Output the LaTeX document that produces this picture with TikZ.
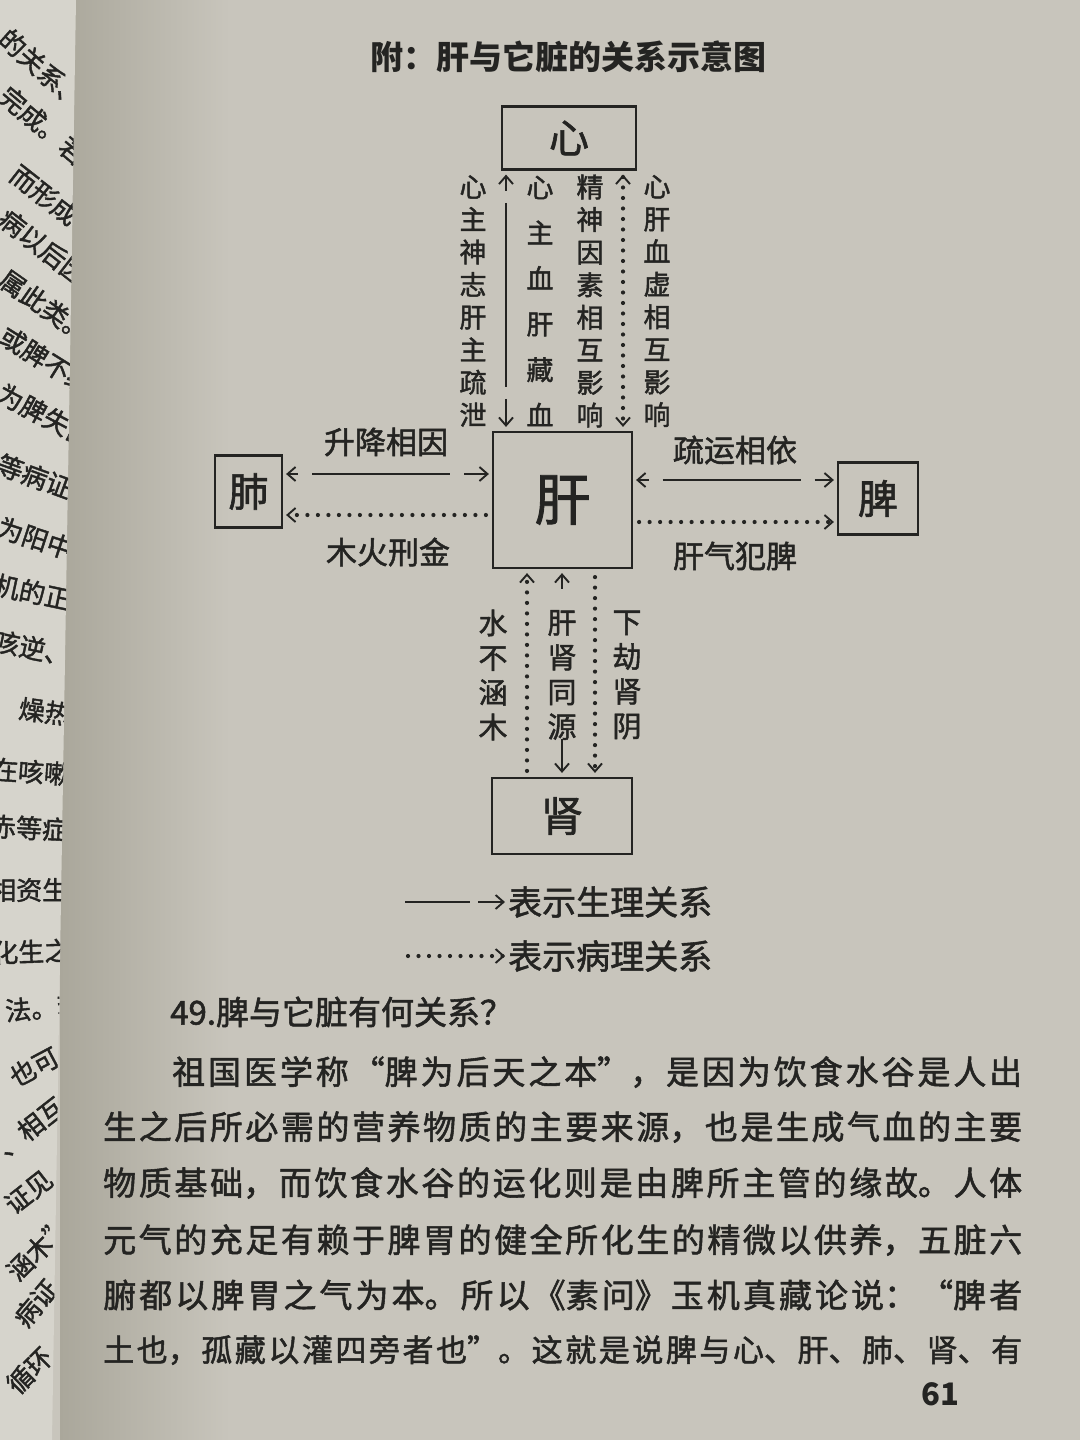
\documentclass[tikz,border=0pt]{standalone}
\usepackage{fontspec}
\setmainfont{Liberation Serif}
\newfontfamily\cjk{Noto Sans CJK SC}[FakeBold=1.6]
\newfontfamily\cjkt{Noto Sans CJK SC}
\usetikzlibrary{arrows.meta,calc}
\definecolor{page}{RGB}{200,197,188}
\definecolor{strip}{RGB}{214,212,204}
\definecolor{gutter}{RGB}{170,167,155}
\definecolor{ink}{RGB}{36,36,34}
\newcommand\jline{\XeTeXlinebreaklocale "zh"\XeTeXlinebreakskip=0pt plus 1fil\parfillskip=0pt\noindent}
\tikzset{
  >={Straight Barb[length=8pt,width=14pt,line width=1.9pt]},
  organ/.style={draw=ink, line width=2.2pt, inner sep=0pt, text=ink},
  sol/.style={draw=ink, line width=2.8pt},
  dots/.style={draw=ink, line width=4.2pt, line cap=round, dash pattern=on 0pt off 10.5pt},
  gapv/.style={dash pattern=on 14pt off 12pt on 184pt off 12pt on 60pt},
  gaph/.style={dash pattern=on 10pt off 14pt on 138pt off 14pt on 60pt},
  gapm/.style={dash pattern=on 13pt off 150pt on 60pt},
  vlab/.style={text=ink, inner sep=0pt, align=center},
  hlab/.style={text=ink, inner sep=0pt, font=\cjk\fontsize{31}{31}\selectfont},
  leg/.style={text=ink, inner sep=0pt, anchor=west, font=\cjk\fontsize{34}{34}\selectfont},
  para/.style={anchor=west, inner sep=0pt, text=ink, font=\cjk\fontsize{33}{33}\selectfont},
  strp/.style={anchor=west, inner sep=0pt, text=ink, font=\cjk\fontsize{26}{26}\selectfont},
}
\begin{document}
\begin{tikzpicture}[x=1pt,y=-1pt]
\useasboundingbox (0,0) rectangle (1080,1440);
% page background
\fill[page] (0,0) rectangle (1080,1440);
\shade[left color=gutter, right color=page] (60,0) rectangle (230,1440);
% left page strip
\begin{scope}
\clip (0,0) -- (76,0) -- (52,1440) -- (0,1440) -- cycle;
\fill[strip] (0,0) rectangle (80,1440);
\node[strp, rotate=-42] (s1) at (3,34) {的关系、};
\node[strp, rotate=-40] (s2) at (3,92) {完成。若};
\node[strp, rotate=-38] (s3) at (-7,155) {、而形成};
\node[strp, rotate=-38] (s4) at (2,215) {病以后因};
\node[strp, rotate=-35] (s5) at (2,276) {属此类。};
\node[strp, rotate=-32] (s6) at (2,333) {或脾不统};
\node[strp, rotate=-28] (s7) at (-1,391) {为脾失健};
\node[strp, rotate=-20] (s8) at (-2,463) {等病证。};
\node[strp, rotate=-18] (s9) at (-2,526) {为阳中之};
\node[strp, rotate=-12] (s10) at (-6,584) {机的正常};
\node[strp, rotate=-12] (s11) at (-6,640) {咳逆、咳};
\node[strp, rotate=-8] (s12) at (19,708) {燥热下};
\node[strp, rotate=-4] (s13) at (-8,769) {在咳嗽的};
\node[strp, rotate=-3] (s14) at (-10,826) {赤等症。};
\node[strp] (s15) at (-10,890) {相资生};
\node[strp, rotate=2] (s16) at (-8,953) {化生之};
\node[strp, rotate=5] (s17) at (5,1011) {法。若};
\node[strp, rotate=28] (s18) at (11,1079) {也可};
\node[strp, rotate=38] (s19) at (0,1151) {、相互};
\node[strp, rotate=38] (s20) at (8,1208) {证见};
\node[strp, rotate=45] (s21) at (11,1276) {涵木”};
\node[strp, rotate=50] (s22) at (19,1323) {病证};
\node[strp, rotate=45] (s23) at (11,1389) {循环};
\end{scope}

% title
\node[text=ink, inner sep=0pt, font=\cjkt\bfseries\fontsize{33}{33}\selectfont] (title) at (568,57) {附：肝与它脏的关系示意图};

% organ boxes
\node[organ, minimum width=134pt, minimum height=63pt, font=\cjk\fontsize{40}{40}\selectfont] (xin) at (569,138) {心};
\node[organ, minimum width=139pt, minimum height=136pt, font=\cjk\fontsize{56}{56}\selectfont] (gan) at (562.5,500) {肝};
\node[organ, minimum width=67pt, minimum height=72pt, font=\cjk\fontsize{40}{40}\selectfont] (fei) at (248.5,491.5) {肺};
\node[organ, minimum width=80pt, minimum height=72pt, font=\cjk\fontsize{40}{40}\selectfont] (pi) at (878,498.5) {脾};
\node[organ, minimum width=140pt, minimum height=76pt, font=\cjk\fontsize{42}{42}\selectfont] (shen) at (562,816) {肾};

% helper coordinates
\coordinate (cA) at (506,0);
\coordinate (cB) at (623,0);
\coordinate (cC) at (527,0);
\coordinate (cD) at (562,0);
\coordinate (cE) at (595,0);
\coordinate (rA) at (0,474);
\coordinate (rB) at (0,515);
\coordinate (rC) at (0,480);
\coordinate (rD) at (0,522);

% heart - liver
\draw[sol, gapv, <->, shorten <=4pt, shorten >=4pt] (xin.south -| cA) -- (gan.north -| cA);
\draw[dots, <->, shorten <=4pt, shorten >=4pt] (xin.south -| cB) -- (gan.north -| cB);
% lung - liver
\draw[sol, gaph, <->, shorten <=3pt, shorten >=3pt] (fei.east |- rA) -- (gan.west |- rA);
\draw[dots, ->, shorten <=6pt, shorten >=3pt] (gan.west |- rB) -- (fei.east |- rB);
% liver - spleen
\draw[sol, gaph, <->, shorten <=3pt, shorten >=3pt] (gan.east |- rC) -- (pi.west |- rC);
\draw[dots, ->, shorten <=6pt, shorten >=3pt] (gan.east |- rD) -- (pi.west |- rD);
% liver - kidney
\draw[dots, ->, shorten <=6pt, shorten >=4pt] (shen.north -| cC) -- (gan.south -| cC);
\draw[sol, gapm, <->, shorten <=4pt, shorten >=4pt] (gan.south -| cD) -- (shen.north -| cD);
\draw[dots, ->, shorten <=8pt, shorten >=4pt] (gan.south -| cE) -- (shen.north -| cE);

% vertical labels (top)
\node[vlab, font=\cjk\fontsize{27}{32.6}\selectfont] (t1) at (473,301) {心\\主\\神\\志\\肝\\主\\疏\\泄};
\node[vlab, font=\cjk\fontsize{27}{45.6}\selectfont] (t2) at (540,301) {心\\主\\血\\肝\\藏\\血};
\node[vlab, font=\cjk\fontsize{27}{32.6}\selectfont] (t3) at (590,301) {精\\神\\因\\素\\相\\互\\影\\响};
\node[vlab, font=\cjk\fontsize{27}{32.6}\selectfont] (t4) at (657,301) {心\\肝\\血\\虚\\相\\互\\影\\响};
% vertical labels (bottom)
\node[vlab, font=\cjk\fontsize{29}{34.7}\selectfont] (b1) at (493,675) {水\\不\\涵\\木};
\node[vlab, font=\cjk\fontsize{29}{34.7}\selectfont] (b2) at (562,675) {肝\\肾\\同\\源};
\node[vlab, font=\cjk\fontsize{29}{34.7}\selectfont] (b3) at (627,675) {下\\劫\\肾\\阴};
% horizontal labels
\node[hlab] (h1) at (386,442) {升降相因};
\node[hlab] (h2) at (388,552) {木火刑金};
\node[hlab] (h3) at (735,450) {疏运相依};
\node[hlab] (h4) at (735,556) {肝气犯脾};

% legend
\coordinate (lg1) at (405,902);
\coordinate (lg2) at (408,956);
\node[leg] (lt1) at (508,902) {表示生理关系};
\node[leg] (lt2) at (508,956) {表示病理关系};
\draw[sol, ->, shorten >=3pt, dash pattern=on 65pt off 8pt on 40pt] (lg1) -- (lt1.west);
\draw[dots, ->, shorten >=3pt] (lg2) -- (lt2.west);

% heading and paragraph
\node[anchor=west, inner sep=0pt, text=ink, font=\cjk\fontsize{33}{33}\selectfont] (head) at (170,1012) {49.脾与它脏有何关系？};
\node[para, text width=850pt] (p1) at (172,1072) {\jline 祖国医学称“脾为后天之本”，是因为饮食水谷是人出\par};
\node[para, text width=919pt] (p2) at (103,1127) {\jline 生之后所必需的营养物质的主要来源，也是生成气血的主要\par};
\node[para, text width=919pt] (p3) at (103,1183) {\jline 物质基础，而饮食水谷的运化则是由脾所主管的缘故。人体\par};
\node[para, text width=919pt] (p4) at (103,1240) {\jline 元气的充足有赖于脾胃的健全所化生的精微以供养，五脏六\par};
\node[para, text width=919pt] (p5) at (103,1295) {\jline 腑都以脾胃之气为本。所以《素问》玉机真藏论说：“脾者\par};
\node[para, text width=919pt, font=\cjk\fontsize{31}{31}\selectfont] (p6) at (103,1350) {\jline 土也，孤藏以灌四旁者也”。这就是说脾与心、肝、肺、肾、有\par};

% page number
\node[text=ink, inner sep=0pt, font=\cjkt\bfseries\fontsize{31}{31}\selectfont] (pg) at (940,1394) {61};
\end{tikzpicture}
\end{document}
